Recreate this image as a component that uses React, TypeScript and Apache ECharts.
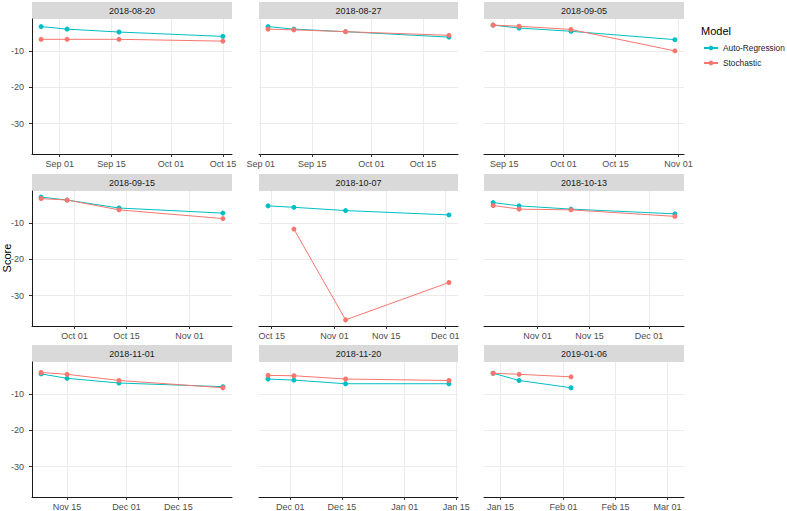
import React, { useEffect, useRef } from "react";
import * as echarts from "echarts";

// ---- data ----
const panelTitles = [
  "2018-08-20", "2018-08-27", "2018-09-05",
  "2018-09-15", "2018-10-07", "2018-10-13",
  "2018-11-01", "2018-11-20", "2019-01-06",
];

const panelDates = [
  ["2018-08-27", "2018-09-03", "2018-09-17", "2018-10-15"],
  ["2018-09-03", "2018-09-10", "2018-09-24", "2018-10-22"],
  ["2018-09-12", "2018-09-19", "2018-10-03", "2018-10-31"],
  ["2018-09-22", "2018-09-29", "2018-10-13", "2018-11-10"],
  ["2018-10-14", "2018-10-21", "2018-11-04", "2018-12-02"],
  ["2018-10-20", "2018-10-27", "2018-11-10", "2018-12-08"],
  ["2018-11-08", "2018-11-15", "2018-11-29", "2018-12-27"],
  ["2018-11-25", "2018-12-02", "2018-12-16", "2019-01-13"],
  ["2019-01-13", "2019-01-20", "2019-02-03", "2019-03-03"],
];

const autoRegression: (number | null)[][] = [
  [-3.3, -4.0, -4.8, -6.0],
  [-3.3, -4.0, -4.7, -6.2],
  [-2.9, -3.7, -4.6, -6.9],
  [-2.9, -3.7, -5.9, -7.3],
  [-5.3, -5.7, -6.6, -7.8],
  [-4.4, -5.3, -6.2, -7.5],
  [-4.5, -5.7, -7.0, -8.0],
  [-5.9, -6.2, -7.2, -7.2],
  [-4.3, -6.3, -8.3, null],
];

const stochastic: (number | null)[][] = [
  [-6.8, -6.8, -6.8, -7.3],
  [-4.0, -4.2, -4.7, -5.7],
  [-2.9, -3.2, -4.1, -10.0],
  [-3.3, -3.7, -6.4, -8.8],
  [null, -11.7, -36.7, -26.4],
  [-5.2, -6.2, -6.4, -8.2],
  [-4.1, -4.6, -6.3, -8.3],
  [-4.9, -5.0, -5.9, -6.3],
  [-4.3, -4.6, -5.3, null],
];

const seriesNames = ["Auto-Regression", "Stochastic"];
const seriesColors = ["#00BFC4", "#F8766D"];
const yTicks = [-30, -20, -10];
const MONTHS = ["Jan", "Feb", "Mar", "Apr", "May", "Jun", "Jul", "Aug", "Sep", "Oct", "Nov", "Dec"];

// ---- layout ----
const colLeft = [32, 259, 484];
const colWidth = [200, 199, 200];
const rowTop = [19, 191, 362];
const plotH = 135;
const stripH = 17;
const FONT = "'Liberation Sans', Arial, Helvetica, sans-serif";

function toTs(s: string) {
  const [y, m, d] = s.split("-").map(Number);
  return Date.UTC(y, m - 1, d);
}

function breaksBetween(min: number, max: number) {
  const out: number[] = [];
  const s = new Date(min);
  let y = s.getUTCFullYear();
  let m = s.getUTCMonth();
  while (Date.UTC(y, m, 1) <= max) {
    for (const day of [1, 15]) {
      const t = Date.UTC(y, m, day);
      if (t >= min && t <= max) out.push(t);
    }
    m++;
    if (m > 11) { m = 0; y++; }
  }
  return out;
}

function fmtDate(v: number) {
  const d = new Date(v);
  const dd = d.getUTCDate();
  return `${MONTHS[d.getUTCMonth()]} ${dd < 10 ? "0" + dd : dd}`;
}

export default function App() {
  const ref = useRef<HTMLDivElement>(null);

  useEffect(() => {
    if (!ref.current) return;
    const chart = echarts.init(ref.current, undefined, { renderer: "svg" });

    const allVals = [...autoRegression.flat(), ...stochastic.flat()].filter(
      (v) => v !== null
    ) as number[];
    const vMin = Math.min(...allVals);
    const vMax = Math.max(...allVals);
    const vSpan = vMax - vMin;
    const yMin = vMin - 0.05 * vSpan;
    const yMax = vMax + 0.05 * vSpan;

    const grids: any[] = [];
    const xAxes: any[] = [];
    const yAxes: any[] = [];
    const series: any[] = [];
    const graphics: any[] = [];

    panelTitles.forEach((title, i) => {
      const r = Math.floor(i / 3);
      const c = i % 3;
      const left = colLeft[c];
      const width = colWidth[c];
      const top = rowTop[r];
      grids.push({ left, top, width, height: plotH, outerBoundsMode: "none" });

      const ts = panelDates[i].map(toTs);
      const tMin = Math.min(...ts);
      const tMax = Math.max(...ts);
      const span = tMax - tMin;
      const xMin = tMin - 0.05 * span;
      const xMax = tMax + 0.05 * span;
      const breaks = breaksBetween(xMin, xMax);

      xAxes.push({
        type: "value",
        gridIndex: i,
        min: xMin,
        max: xMax,
        axisLine: { show: true, onZero: false, lineStyle: { color: "#1A1A1A", width: 1 } },
        axisTick: { show: true, length: 3, customValues: breaks, lineStyle: { color: "#333333" } },
        axisLabel: {
          customValues: breaks,
          formatter: (v: number) => fmtDate(v),
          fontSize: 9,
          color: "#4D4D4D",
          fontFamily: FONT,
          margin: 5,
          hideOverlap: false,
          showMinLabel: true,
          showMaxLabel: true,
        },
        splitLine: { show: true, lineStyle: { color: "#EBEBEB", width: 1 } },
        minorSplitLine: { show: false },
      });

      yAxes.push({
        type: "value",
        gridIndex: i,
        min: yMin,
        max: yMax,
        axisLine: { show: c === 0, onZero: false, lineStyle: { color: "#1A1A1A", width: 1 } },
        axisTick: { show: c === 0, length: 3, customValues: yTicks, lineStyle: { color: "#333333" } },
        axisLabel: {
          show: c === 0,
          customValues: yTicks,
          fontSize: 9,
          color: "#4D4D4D",
          fontFamily: FONT,
          margin: 8,
        },
        splitLine: { show: true, lineStyle: { color: "#EBEBEB", width: 1 } },
      });

      [autoRegression, stochastic].forEach((vals, k) => {
        series.push({
          type: "line",
          name: seriesNames[k],
          xAxisIndex: i,
          yAxisIndex: i,
          data: ts.map((t, j) => [t, vals[i][j]]),
          symbol: "circle",
          symbolSize: 5,
          showSymbol: true,
          connectNulls: false,
          itemStyle: { color: seriesColors[k] },
          lineStyle: { color: seriesColors[k], width: 1 },
          z: 2 + k,
          emphasis: { disabled: true },
        });
      });

      graphics.push({
        type: "rect",
        shape: { x: left, y: top - stripH, width, height: stripH },
        style: { fill: "#D9D9D9" },
        silent: true,
      });
      graphics.push({
        type: "text",
        x: left + width / 2,
        y: top - stripH / 2,
        style: {
          text: title,
          fontSize: 9,
          fill: "#1A1A1A",
          fontFamily: FONT,
          align: "center",
          verticalAlign: "middle",
        },
        silent: true,
      });
    });

    graphics.push({
      type: "text",
      x: 6.5,
      y: 258,
      rotation: Math.PI / 2,
      style: {
        text: "Score",
        fontSize: 11,
        fill: "#000000",
        fontFamily: FONT,
        align: "center",
        verticalAlign: "middle",
      },
      silent: true,
    });
    graphics.push({
      type: "text",
      x: 701,
      y: 30.5,
      style: {
        text: "Model",
        fontSize: 11,
        fill: "#000000",
        fontFamily: FONT,
        align: "left",
        verticalAlign: "middle",
      },
      silent: true,
    });

    chart.setOption({
      animation: false,
      grid: grids,
      xAxis: xAxes,
      yAxis: yAxes,
      series,
      graphic: graphics,
      legend: {
        data: seriesNames,
        orient: "vertical",
        left: 703,
        top: 42,
        padding: 0,
        itemWidth: 14,
        itemHeight: 6,
        itemGap: 3,
        textStyle: { fontSize: 8.3, color: "#1A1A1A", fontFamily: FONT, lineHeight: 12 },
        selectedMode: false,
      },
    });

    return () => chart.dispose();
  }, []);

  return (
    <div
      ref={ref}
      style={{ position: "fixed", left: 0, top: 0, width: 787, height: 511, background: "#fff" }}
    />
  );
}
